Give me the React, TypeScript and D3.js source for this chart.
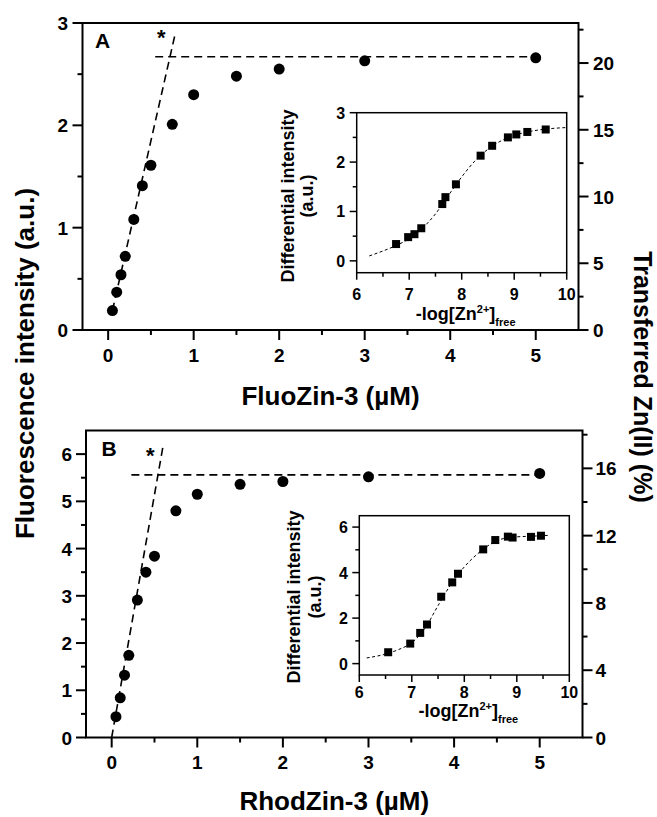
import React from "react";
import * as d3 from "d3";

const W = 657;
const H = 817;
const FONT = "'Liberation Sans', Arial, Helvetica, sans-serif";

// ---------- Panel A (FluoZin-3) ----------
const fluoConc = [0.05, 0.1, 0.15, 0.2, 0.3, 0.4, 0.5, 0.75, 1, 1.5, 2, 3, 5];
const fluoIntensity = [0.19, 0.37, 0.54, 0.72, 1.08, 1.41, 1.61, 2.01, 2.3, 2.48, 2.55, 2.63, 2.66];
const fluoSlope: [number, number][] = [[0.05, 0.19], [0.78, 2.88]];
const fluoPlateau: [number, number][] = [[0.55, 2.67], [5.05, 2.67]];
const fluoStar: [number, number] = [0.62, 2.9];
const fluoInsetLogZn = [6.75, 6.98, 7.1, 7.23, 7.63, 7.69, 7.89, 8.36, 8.58, 8.88, 9.04, 9.25, 9.6];
const fluoInsetDiff = [0.34, 0.48, 0.54, 0.66, 1.15, 1.29, 1.55, 2.13, 2.33, 2.5, 2.56, 2.61, 2.66];
const fluoInsetFit: [number, number][] = [
  [6.24, 0.1], [6.5, 0.2], [6.75, 0.31], [7.0, 0.45], [7.25, 0.66], [7.5, 0.95], [7.75, 1.33],
  [8.0, 1.7], [8.25, 2.02], [8.5, 2.26], [8.75, 2.43], [9.0, 2.54], [9.25, 2.61], [9.5, 2.655], [10, 2.7],
];
const aYTicks = [0, 1, 2, 3];
const aRightTicks = [0, 5, 10, 15, 20];
const aInsetYTicks = [0, 1, 2, 3];

// ---------- Panel B (RhodZin-3) ----------
const rhodConc = [0.05, 0.1, 0.15, 0.2, 0.3, 0.4, 0.5, 0.75, 1, 1.5, 2, 3, 5];
const rhodIntensity = [0.44, 0.84, 1.32, 1.74, 2.91, 3.5, 3.84, 4.8, 5.15, 5.36, 5.42, 5.52, 5.59];
const rhodSlope: [number, number][] = [[0.0, 0.0], [0.6, 6.17]];
const rhodPlateau: [number, number][] = [[0.23, 5.56], [5.05, 5.56]];
const rhodStar: [number, number] = [0.45, 6.07];
const rhodInsetLogZn = [6.55, 6.97, 7.16, 7.29, 7.56, 7.77, 7.88, 8.36, 8.59, 8.83, 8.92, 9.27, 9.46];
const rhodInsetDiff = [0.5, 0.88, 1.35, 1.72, 2.94, 3.57, 3.95, 5.02, 5.43, 5.58, 5.54, 5.57, 5.62];
const rhodInsetFit: [number, number][] = [
  [6.14, 0.25], [6.5, 0.42], [6.75, 0.62], [7.0, 0.92], [7.25, 1.55], [7.5, 2.55], [7.75, 3.5],
  [8.0, 4.25], [8.25, 4.82], [8.5, 5.25], [8.75, 5.5], [9.0, 5.57], [9.3, 5.6], [9.63, 5.64],
];
const bYTicks = [0, 1, 2, 3, 4, 5, 6];
const bRightTicks = [0, 4, 8, 12, 16];
const bInsetYTicks = [0, 2, 4, 6];

// shared
const mainXTicks = [0, 1, 2, 3, 4, 5];
const insetXTicks = [6, 7, 8, 9, 10];

function minors(majors: number[], domain: number[]) {
  const step = majors[1] - majors[0];
  const lo = Math.min(domain[0], domain[1]);
  const hi = Math.max(domain[0], domain[1]);
  const out: number[] = [];
  [majors[0] - step, ...majors].forEach((m) => {
    const v = m + step / 2;
    if (v > lo + 0.01 * step && v < hi - 0.01 * step) out.push(v);
  });
  return out;
}

type PanelCfg = {
  left: number; right: number; top: number; bottom: number;
  yDomain: [number, number]; rDomain: [number, number];
  yTicks: number[]; rTicks: number[];
  conc: number[]; intensity: number[];
  slope: [number, number][]; plateau: [number, number][]; star: [number, number];
  letter: string; letterDx: number; letterY: number;
  yLabelGap: number; rLabelGap: number; xLabelDy: number;
  title: string; titleY: number;
  inset: {
    left: number; right: number; top: number; bottom: number;
    yDomain: [number, number]; yTicks: number[];
    xs: number[]; ys: number[]; fit: [number, number][];
    xLabelDy: number; titleDy: number; yTitle1X: number; yTitle2X: number; yTitleCy: number;
  };
};

function Panel({ c }: { c: PanelCfg }) {
  const x = d3.scaleLinear().domain([-0.3, 5.5]).range([c.left, c.right]);
  const y = d3.scaleLinear().domain(c.yDomain).range([c.bottom, c.top]);
  const yr = d3.scaleLinear().domain(c.rDomain).range([c.bottom, c.top]);
  const line = d3.line<[number, number]>().x((d) => x(d[0])).y((d) => y(d[1]));

  const ins = c.inset;
  const ix = d3.scaleLinear().domain([6, 10]).range([ins.left, ins.right]);
  const iy = d3.scaleLinear().domain(ins.yDomain).range([ins.bottom, ins.top]);
  const iline = d3
    .line<[number, number]>()
    .x((d) => ix(d[0]))
    .y((d) => iy(d[1]))
    .curve(d3.curveMonotoneX);

  const tickW = 2;
  const mainFs = 19;
  const insFs = 16;
  const cx = (c.left + c.right) / 2;
  const icx = (ins.left + ins.right) / 2;

  return (
    <g fontFamily={FONT} fontWeight="bold" fill="#000">
      {/* main frame */}
      <rect x={c.left} y={c.top} width={c.right - c.left} height={c.bottom - c.top} fill="none" stroke="#000" strokeWidth={2} />

      {/* bottom x ticks */}
      {mainXTicks.map((t) => (
        <g key={"xt" + t}>
          <line x1={x(t)} x2={x(t)} y1={c.bottom} y2={c.bottom + 10} stroke="#000" strokeWidth={tickW} />
          <text x={x(t)} y={c.bottom + c.xLabelDy} fontSize={mainFs} textAnchor="middle">{t}</text>
        </g>
      ))}
      {minors(mainXTicks, [-0.3, 5.5]).map((t) => (
        <line key={"xm" + t} x1={x(t)} x2={x(t)} y1={c.bottom} y2={c.bottom + 5} stroke="#000" strokeWidth={tickW} />
      ))}

      {/* left y ticks */}
      {c.yTicks.map((t) => (
        <g key={"yt" + t}>
          <line x1={c.left - 10} x2={c.left} y1={y(t)} y2={y(t)} stroke="#000" strokeWidth={tickW} />
          <text x={c.left - c.yLabelGap} y={y(t) + 7} fontSize={mainFs} textAnchor="end">{t}</text>
        </g>
      ))}
      {minors(c.yTicks, c.yDomain).map((t) => (
        <line key={"ym" + t} x1={c.left - 5} x2={c.left} y1={y(t)} y2={y(t)} stroke="#000" strokeWidth={tickW} />
      ))}

      {/* right y ticks */}
      {c.rTicks.map((t) => (
        <g key={"rt" + t}>
          <line x1={c.right} x2={c.right + 10} y1={yr(t)} y2={yr(t)} stroke="#000" strokeWidth={tickW} />
          <text x={c.right + c.rLabelGap} y={yr(t) + 7} fontSize={mainFs} textAnchor="start">{t}</text>
        </g>
      ))}
      {minors(c.rTicks, c.rDomain).map((t) => (
        <line key={"rm" + t} x1={c.right} x2={c.right + 5} y1={yr(t)} y2={yr(t)} stroke="#000" strokeWidth={tickW} />
      ))}

      {/* dashed guide lines */}
      <path d={line(c.slope) || ""} fill="none" stroke="#000" strokeWidth={1.6} strokeDasharray="8,5" />
      <path d={line(c.plateau) || ""} fill="none" stroke="#000" strokeWidth={1.6} strokeDasharray="8,5" />

      {/* points */}
      {c.conc.map((v, i) => (
        <circle key={"p" + i} cx={x(v)} cy={y(c.intensity[i])} r={5.5} fill="#000" />
      ))}

      {/* asterisk and letter */}
      <text x={x(c.star[0])} y={y(c.star[1]) + 12} fontSize={22} textAnchor="middle">*</text>
      <text x={c.left + c.letterDx} y={c.letterY} fontSize={21}>{c.letter}</text>

      {/* x title */}
      <text x={cx} y={c.titleY} fontSize={26} textAnchor="middle">
        {c.title} (<tspan>{"\u00B5"}</tspan>M)
      </text>

      {/* ---------- inset ---------- */}
      <rect x={ins.left} y={ins.top} width={ins.right - ins.left} height={ins.bottom - ins.top} fill="#fff" stroke="#000" strokeWidth={1.5} />
      {insetXTicks.map((t) => (
        <g key={"ixt" + t}>
          <line x1={ix(t)} x2={ix(t)} y1={ins.bottom} y2={ins.bottom + 7} stroke="#000" strokeWidth={1.5} />
          <text x={ix(t)} y={ins.bottom + ins.xLabelDy} fontSize={insFs} textAnchor="middle">{t}</text>
        </g>
      ))}
      {minors(insetXTicks, [6, 10]).map((t) => (
        <line key={"ixm" + t} x1={ix(t)} x2={ix(t)} y1={ins.bottom} y2={ins.bottom + 4} stroke="#000" strokeWidth={1.5} />
      ))}
      {ins.yTicks.map((t) => (
        <g key={"iyt" + t}>
          <line x1={ins.left - 7} x2={ins.left} y1={iy(t)} y2={iy(t)} stroke="#000" strokeWidth={1.5} />
          <text x={ins.left - 11.5} y={iy(t) + 6} fontSize={insFs} textAnchor="end">{t}</text>
        </g>
      ))}
      {minors(ins.yTicks, ins.yDomain).map((t) => (
        <line key={"iym" + t} x1={ins.left - 4} x2={ins.left} y1={iy(t)} y2={iy(t)} stroke="#000" strokeWidth={1.5} />
      ))}
      <path d={iline(ins.fit) || ""} fill="none" stroke="#000" strokeWidth={1} strokeDasharray="3,2.5" />
      {ins.xs.map((v, i) => (
        <rect key={"s" + i} x={ix(v) - 4} y={iy(ins.ys[i]) - 4} width={8} height={8} fill="#000" />
      ))}
      {/* inset titles */}
      <text x={icx + 4} y={ins.bottom + ins.titleDy} fontSize={18} textAnchor="middle">
        -log[Zn<tspan fontSize={11} dy={-7}>2+</tspan>
        <tspan dy={7}>]</tspan>
        <tspan fontSize={11} dy={6}>free</tspan>
      </text>
      <text transform={`translate(${ins.yTitle1X},${ins.yTitleCy}) rotate(-90)`} fontSize={18} textAnchor="middle">
        Differential intensity
      </text>
      <text transform={`translate(${ins.yTitle2X},${ins.yTitleCy}) rotate(-90)`} fontSize={18} textAnchor="middle">
        (a.u.)
      </text>
    </g>
  );
}

const panelA: PanelCfg = {
  left: 82.5, right: 578.5, top: 23, bottom: 330,
  yDomain: [0, 3], rDomain: [0, 23],
  yTicks: aYTicks, rTicks: aRightTicks,
  conc: fluoConc, intensity: fluoIntensity,
  slope: fluoSlope, plateau: fluoPlateau, star: fluoStar,
  letter: "A", letterDx: 12.5, letterY: 48,
  yLabelGap: 14.5, rLabelGap: 14.5, xLabelDy: 31.5,
  title: "FluoZin-3", titleY: 405,
  inset: {
    left: 356.7, right: 566.7, top: 112.7, bottom: 272.7,
    yDomain: [-0.24, 3], yTicks: aInsetYTicks,
    xs: fluoInsetLogZn, ys: fluoInsetDiff, fit: fluoInsetFit,
    xLabelDy: 27, titleDy: 47, yTitle1X: 294, yTitle2X: 313, yTitleCy: 196,
  },
};

const panelB: PanelCfg = {
  left: 86, right: 582.5, top: 430.5, bottom: 737.5,
  yDomain: [0, 6.5], rDomain: [0, 18.25],
  yTicks: bYTicks, rTicks: bRightTicks,
  conc: rhodConc, intensity: rhodIntensity,
  slope: rhodSlope, plateau: rhodPlateau, star: rhodStar,
  letter: "B", letterDx: 15.5, letterY: 456,
  yLabelGap: 14, rLabelGap: 13, xLabelDy: 31,
  title: "RhodZin-3", titleY: 810,
  inset: {
    left: 359.3, right: 569.3, top: 515.7, bottom: 675,
    yDomain: [-0.5, 6.5], yTicks: bInsetYTicks,
    xs: rhodInsetLogZn, ys: rhodInsetDiff, fit: rhodInsetFit,
    xLabelDy: 22.5, titleDy: 41.5, yTitle1X: 300, yTitle2X: 321, yTitleCy: 597,
  },
};

export default function App() {
  return (
    <svg
      width={W}
      height={H}
      viewBox={`0 0 ${W} ${H}`}
      style={{ position: "absolute", left: 0, top: 0, background: "#fff" }}
    >
      <rect x={0} y={0} width={W} height={H} fill="#fff" />
      <Panel c={panelA} />
      <Panel c={panelB} />
      <text
        transform={`translate(33.5,363.5) rotate(-90)`}
        fontFamily={FONT}
        fontWeight="bold"
        fontSize={26}
        textAnchor="middle"
      >
        Fluorescence intensity (a.u.)
      </text>
      <text
        transform={`translate(634,377) rotate(90)`}
        fontFamily={FONT}
        fontWeight="bold"
        fontSize={25}
        textAnchor="middle"
      >
        Transferred Zn(II) (%)
      </text>
    </svg>
  );
}
